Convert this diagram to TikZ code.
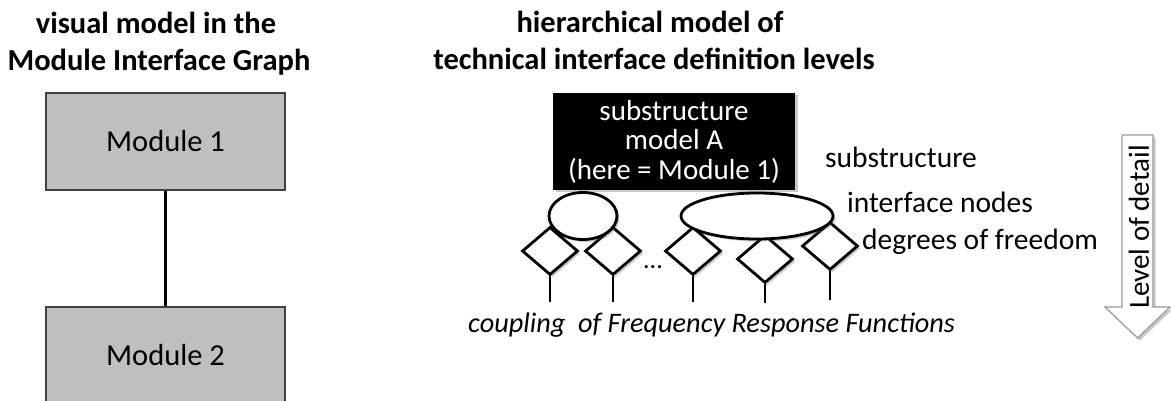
\documentclass[tikz,border=0pt]{standalone}
\usepackage{fontspec}
\setmainfont{Carlito}
\usetikzlibrary{shapes.geometric,shadows}
\begin{document}
\begin{tikzpicture}[x=1pt,y=-1pt,
  title/.style={font=\fontsize{30.5}{36}\selectfont\bfseries, inner sep=0pt, anchor=base},
  label/.style={font=\fontsize{29.5}{30}\selectfont, inner sep=0pt, anchor=base west},
  module/.style={draw=black!75, line width=2pt, fill=black!25, minimum width=239pt, inner sep=0pt, font=\fontsize{30.5}{31}\selectfont},
  shd/.style={drop shadow={shadow xshift=2.5pt, shadow yshift=-2.5pt, opacity=0.35, fill=black!60}},
  dof/.style={diamond, draw, line width=2.8pt, fill=white, minimum width=56pt, minimum height=48pt, inner sep=0pt, shd},
  inode/.style={ellipse, draw, line width=2.8pt, fill=white, inner sep=0pt, shd},
  stem/.style={line width=2.8pt}
]
\useasboundingbox (0,0) rectangle (1171,401);
\clip (0,0) rectangle (1171,401);

% left titles
\node[title] (tl1) at (156,34) {visual model in the};
\node[title] (tl2) at (159,71) {Module Interface Graph};

% modules
\node[module, minimum height=97pt] (m1) at (165.5,141.5) {Module 1};
\node[module, minimum height=96pt, text depth=0pt, text height=20pt] (m2) at (165.5,355) {Module 2};
\draw[line width=2.8pt] (m1.south) -- (m2.north);

% right titles
\node[title] (tr1) at (650,33) {hierarchical model of};
\node[title] (tr2) at (654,70) {technical interface definition levels};

% substructure box
\node[fill=black, text=white, minimum width=242pt, minimum height=97pt, inner sep=0pt, align=center,
      font=\fontsize{29}{29.5}\selectfont, shd] (sub) at (674,141.5) {substructure\\model A\\(here = Module 1)};

% degrees of freedom
\node[dof] (d1) at (550,251) {};
\node[dof] (d2) at (613,251) {};
\node[dof] (d3) at (693,251) {};
\node[dof] (d4) at (765,259) {};
\node[dof] (d5) at (830,246) {};

% interface nodes
\node[inode, minimum width=68pt, minimum height=47pt] (e1) at (583,216) {};
\node[inode, minimum width=152pt, minimum height=46pt] (e2) at (757,216) {};

% stems
\coordinate (s1) at (550,302);
\coordinate (s2) at (613,302);
\coordinate (s3) at (693,302);
\coordinate (s4) at (765,303);
\coordinate (s5) at (830,300);
\draw[stem] (d1.south) -- (s1);
\draw[stem] (d2.south) -- (s2);
\draw[stem] (d3.south) -- (s3);
\draw[stem] (d4.south) -- (s4);
\draw[stem] (d5.south) -- (s5);

\node[font=\fontsize{26}{26}\selectfont, inner sep=0pt, anchor=base] (dots) at (653,269) {...};

% labels
\node[label] (lsub) at (825,168) {substructure};
\node[label] (lin) at (847,213) {interface nodes};
\node[label] (ldof) at (862,250) {degrees of freedom};
\node[label, font=\fontsize{28.3}{30}\selectfont\itshape] (lfrf) at (468,332) {coupling\ \ of Frequency Response Functions};

% level of detail arrow
\path[draw=black!40, line width=1.2pt, fill=white, shd]
  (1122,135) -- (1153,135) -- (1153,307) -- (1170,307) -- (1137.5,338) -- (1105,307) -- (1122,307) -- cycle;
\node[rotate=90, font=\fontsize{29}{29}\selectfont, inner sep=0pt] (lod) at (1139,227) {Level of detail};
\end{tikzpicture}
\end{document}
